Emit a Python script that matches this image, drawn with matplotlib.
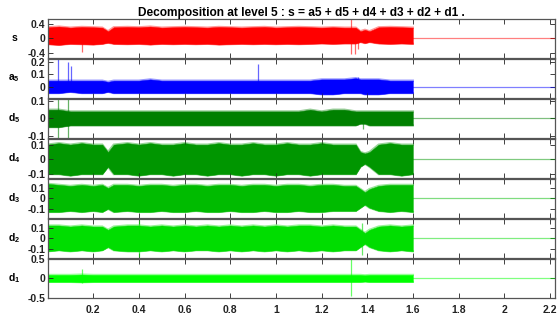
import matplotlib
matplotlib.use('Agg')
import matplotlib.pyplot as plt

plt.rcParams['font.family'] = ['Liberation Sans', 'DejaVu Sans']
plt.rcParams['font.weight'] = 'bold'
plt.rcParams['mathtext.fontset'] = 'custom'
plt.rcParams['mathtext.rm'] = 'Liberation Sans:bold'
plt.rcParams['mathtext.it'] = 'Liberation Sans:bold'
plt.rcParams['mathtext.bf'] = 'Liberation Sans:bold'

# time points (s) where envelopes were read, and end of the zero-padded signal
t = [0.00, 0.05, 0.10, 0.15, 0.20, 0.24, 0.265, 0.29, 0.35, 0.40, 0.45, 0.50,
     0.55, 0.60, 0.65, 0.70, 0.75, 0.80, 0.85, 0.90, 0.95, 1.00, 1.05, 1.10,
     1.15, 1.20, 1.25, 1.30, 1.35, 1.37, 1.39, 1.41, 1.45, 1.50, 1.55, 1.60]
t_end = 2.2222

names = ['s', 'a5', 'd5', 'd4', 'd3', 'd2', 'd1']
labels = ['s', r'$\mathrm{a}_5$', r'$\mathrm{d}_5$', r'$\mathrm{d}_4$',
          r'$\mathrm{d}_3$', r'$\mathrm{d}_2$', r'$\mathrm{d}_1$']
colors = ['#ff0000', '#0000ff', '#008000', '#009600', '#00bb00', '#00dd00', '#00ff00']

# upper / lower envelopes
s_hi = [0.31, 0.33, 0.30, 0.32, 0.31, 0.30, 0.20, 0.31, 0.32, 0.31, 0.33, 0.30,
        0.31, 0.32, 0.31, 0.30, 0.32, 0.31, 0.30, 0.31, 0.32, 0.30, 0.31, 0.32,
        0.31, 0.30, 0.31, 0.30, 0.30, 0.20, 0.24, 0.20, 0.31, 0.32, 0.31, 0.30]
s_lo = [-0.16, -0.18, -0.15, -0.16, -0.17, -0.15, -0.12, -0.15, -0.16, -0.15, -0.17, -0.15,
        -0.16, -0.15, -0.16, -0.15, -0.17, -0.16, -0.15, -0.16, -0.15, -0.16, -0.15, -0.16,
        -0.15, -0.14, -0.15, -0.14, -0.14, -0.10, -0.13, -0.10, -0.14, -0.15, -0.14, -0.15]
a5_hi = [0.05, 0.05, 0.05, 0.05, 0.05, 0.05, 0.04, 0.05, 0.05, 0.05, 0.06, 0.05,
         0.05, 0.05, 0.05, 0.05, 0.05, 0.05, 0.05, 0.05, 0.05, 0.05, 0.05, 0.05,
         0.05, 0.06, 0.06, 0.06, 0.07, 0.06, 0.06, 0.06, 0.06, 0.05, 0.05, 0.05]
a5_lo = [-0.05, -0.05, -0.04, -0.05, -0.05, -0.05, -0.04, -0.05, -0.05, -0.05, -0.05, -0.05,
         -0.05, -0.05, -0.05, -0.05, -0.05, -0.05, -0.05, -0.05, -0.05, -0.05, -0.05, -0.05,
         -0.05, -0.06, -0.06, -0.05, -0.05, -0.05, -0.06, -0.06, -0.06, -0.05, -0.05, -0.05]
d5_hi = [0.05, 0.05, 0.04, 0.04, 0.04, 0.04, 0.04, 0.04, 0.04, 0.04, 0.04, 0.04,
         0.04, 0.04, 0.04, 0.04, 0.04, 0.04, 0.04, 0.04, 0.04, 0.04, 0.04, 0.04,
         0.05, 0.04, 0.05, 0.05, 0.04, 0.04, 0.04, 0.04, 0.04, 0.04, 0.04, 0.04]
d5_lo = [-0.05, -0.05, -0.04, -0.04, -0.04, -0.04, -0.04, -0.04, -0.04, -0.04, -0.04, -0.04,
         -0.04, -0.04, -0.04, -0.04, -0.04, -0.04, -0.04, -0.04, -0.04, -0.04, -0.04, -0.04,
         -0.04, -0.04, -0.04, -0.04, -0.04, -0.03, -0.03, -0.04, -0.04, -0.04, -0.04, -0.04]
d4_hi = [0.10, 0.11, 0.10, 0.11, 0.10, 0.10, 0.05, 0.10, 0.11, 0.10, 0.11, 0.10,
         0.10, 0.11, 0.10, 0.10, 0.11, 0.10, 0.10, 0.11, 0.10, 0.10, 0.11, 0.10,
         0.10, 0.11, 0.10, 0.10, 0.10, 0.05, 0.04, 0.05, 0.10, 0.11, 0.10, 0.10]
d4_lo = [-0.10, -0.10, -0.11, -0.10, -0.10, -0.10, -0.05, -0.10, -0.10, -0.11, -0.10, -0.10,
         -0.11, -0.10, -0.10, -0.11, -0.10, -0.10, -0.11, -0.10, -0.10, -0.11, -0.10, -0.10,
         -0.11, -0.10, -0.10, -0.10, -0.10, -0.05, -0.03, -0.05, -0.10, -0.10, -0.11, -0.10]
d3_hi = [0.14, 0.13, 0.12, 0.13, 0.12, 0.13, 0.10, 0.13, 0.13, 0.12, 0.13, 0.13,
         0.12, 0.13, 0.13, 0.12, 0.13, 0.13, 0.12, 0.13, 0.13, 0.12, 0.13, 0.13,
         0.12, 0.13, 0.13, 0.12, 0.12, 0.09, 0.06, 0.09, 0.12, 0.13, 0.13, 0.13]
d3_lo = [-0.13, -0.13, -0.12, -0.13, -0.12, -0.13, -0.10, -0.13, -0.12, -0.13, -0.13, -0.12,
         -0.13, -0.13, -0.12, -0.13, -0.13, -0.12, -0.13, -0.13, -0.12, -0.13, -0.13, -0.12,
         -0.13, -0.13, -0.12, -0.12, -0.12, -0.09, -0.06, -0.09, -0.12, -0.13, -0.12, -0.13]
d2_hi = [0.12, 0.12, 0.11, 0.12, 0.11, 0.11, 0.08, 0.11, 0.12, 0.12, 0.11, 0.12,
         0.11, 0.12, 0.11, 0.12, 0.11, 0.12, 0.11, 0.12, 0.11, 0.12, 0.11, 0.12,
         0.12, 0.11, 0.12, 0.11, 0.11, 0.08, 0.05, 0.08, 0.11, 0.12, 0.11, 0.12]
d2_lo = [-0.12, -0.11, -0.12, -0.11, -0.12, -0.11, -0.08, -0.11, -0.12, -0.12, -0.11, -0.12,
         -0.11, -0.12, -0.11, -0.11, -0.12, -0.11, -0.12, -0.11, -0.12, -0.11, -0.12, -0.11,
         -0.12, -0.11, -0.12, -0.11, -0.11, -0.08, -0.05, -0.08, -0.11, -0.12, -0.11, -0.12]
d1_hi = [0.09, 0.09, 0.09, 0.10, 0.09, 0.09, 0.09, 0.09, 0.09, 0.09, 0.09, 0.09,
         0.09, 0.09, 0.09, 0.09, 0.09, 0.09, 0.09, 0.09, 0.09, 0.09, 0.09, 0.09,
         0.09, 0.09, 0.09, 0.09, 0.09, 0.09, 0.08, 0.09, 0.09, 0.09, 0.09, 0.09]
d1_lo = [-0.09, -0.09, -0.09, -0.10, -0.09, -0.09, -0.09, -0.09, -0.09, -0.09, -0.09, -0.09,
         -0.09, -0.09, -0.09, -0.09, -0.09, -0.09, -0.09, -0.09, -0.09, -0.09, -0.09, -0.09,
         -0.09, -0.09, -0.09, -0.09, -0.09, -0.09, -0.08, -0.09, -0.09, -0.09, -0.09, -0.09]

# isolated spikes: (time, low, high)
s_spk = [(0.15, -0.37, 0.0), (1.330, -0.43, 0.54), (1.345, -0.43, 0.0), (1.360, -0.30, 0.0)]
a5_spk = [(0.044, 0.0, 0.224), (0.089, 0.0, 0.20), (0.104, 0.0, 0.17), (0.92, 0.0, 0.18), (1.36, 0.0, 0.08)]
d5_spk = [(0.044, -0.11, 0.11), (0.089, -0.11, 0.11), (1.38, -0.06, 0.0)]
d4_spk = []
d3_spk = []
d2_spk = [(0.40, -0.17, 0.17), (1.375, -0.15, 0.14)]
d1_spk = [(0.15, -0.12, 0.25), (1.331, -0.45, 0.5)]

his = [s_hi, a5_hi, d5_hi, d4_hi, d3_hi, d2_hi, d1_hi]
los = [s_lo, a5_lo, d5_lo, d4_lo, d3_lo, d2_lo, d1_lo]
spks = [s_spk, a5_spk, d5_spk, d4_spk, d3_spk, d2_spk, d1_spk]

ylims = [(-0.54, 0.54), (-0.088, 0.224), (-0.111, 0.111), (-0.125, 0.138),
         (-0.186, 0.186), (-0.18, 0.18), (-0.5, 0.5)]
yticks = [[-0.4, 0, 0.4], [0, 0.1, 0.2], [-0.1, 0, 0.1], [-0.1, 0, 0.1],
          [-0.1, 0, 0.1], [-0.1, 0, 0.1], [-0.5, 0, 0.5]]
yticklabels = [['-0.4', '0', '0.4'], ['0', '0.1', '0.2'], ['-0.1', '0', '0.1'], ['-0.1', '0', '0.1'],
               ['-0.1', '0', '0.1'], ['-0.1', '0', '0.1'], ['-0.5', '0', '0.5']]
xticks = [0.2, 0.4, 0.6, 0.8, 1.0, 1.2, 1.4, 1.6, 1.8, 2.0, 2.2]
xticklabels = ['0.2', '0.4', '0.6', '0.8', '1', '1.2', '1.4', '1.6', '1.8', '2', '2.2']

W, H = 560, 321
fig = plt.figure(figsize=(W / 100, H / 100), dpi=100)
left, right = 47.5, 555.0
top0, step, hgt = 19.0, 40.0, 38.8

axes = []
for i in range(7):
    top = top0 + i * step
    ax = fig.add_axes([left / W, 1 - (top + hgt) / H, (right - left) / W, hgt / H])
    axes.append(ax)
    c = colors[i]
    ax.fill_between(t, los[i], his[i], color=c, lw=0.3)
    ax.plot(t, his[i], color=c, lw=1.6, alpha=0.4, solid_joinstyle='miter')
    ax.plot(t, los[i], color=c, lw=1.6, alpha=0.4, solid_joinstyle='miter')
    ax.plot([t[-1], t_end], [0, 0], color=c, lw=0.9, alpha=0.5)
    if spks[i]:
        st = [p[0] for p in spks[i]]
        sl = [p[1] for p in spks[i]]
        sh = [p[2] for p in spks[i]]
        ax.vlines(st, sl, sh, color=c, lw=0.9, alpha=0.6)
    ax.set_xlim(0, t_end)
    ax.set_ylim(*ylims[i])
    ax.set_yticks(yticks[i])
    ax.set_yticklabels(yticklabels[i])
    ax.set_xticks(xticks)
    if i == 6:
        ax.set_xticklabels(xticklabels)
    else:
        ax.set_xticklabels([])
    ax.tick_params(direction='in', top=True, right=True, length=3.5, width=0.6,
                   labelsize=7.5, pad=1.5, colors='#222222')
    ax.tick_params(axis='x', pad=5)
    for sp in ax.spines.values():
        sp.set_color('#555555')
        sp.set_linewidth(0.9)
    ax.set_ylabel(labels[i], rotation=0, fontsize=7.5, fontweight='bold', ha='center', va='center')
    ax.yaxis.set_label_coords((14 - left) / (right - left), 0.5)

axes[0].set_title('Decomposition at level 5 : s = a5 + d5 + d4 + d3 + d2 + d1 .',
                  fontsize=8.6, fontweight='bold', pad=2)

fig.savefig('out.png', dpi=100)
